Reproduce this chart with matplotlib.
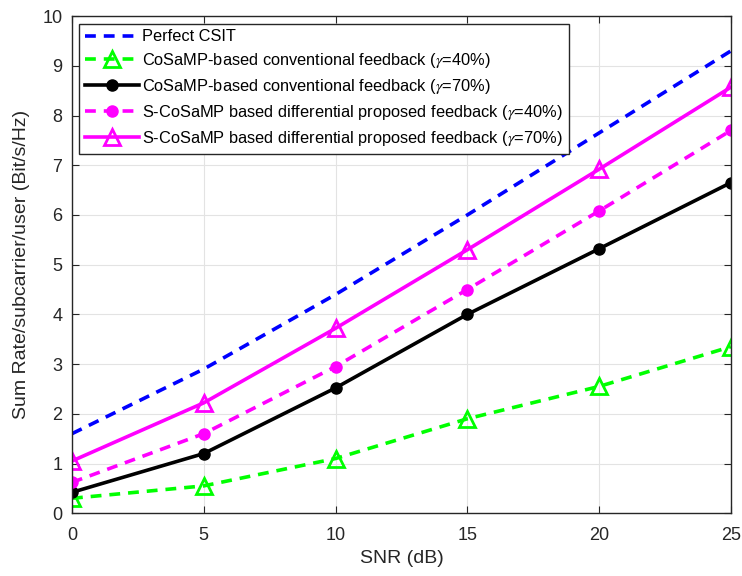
import matplotlib
matplotlib.use("Agg")
import matplotlib.pyplot as plt

plt.rcParams["font.family"] = ["Liberation Sans", "DejaVu Sans"]
plt.rcParams["mathtext.fontset"] = "stix"

snr = [0, 5, 10, 15, 20, 25]
perfect_csit = [1.6, 2.9, 4.4, 6.0, 7.65, 9.3]
cosamp_40 = [0.3, 0.55, 1.1, 1.9, 2.55, 3.35]
cosamp_70 = [0.42, 1.2, 2.52, 4.0, 5.32, 6.65]
scosamp_40 = [0.62, 1.6, 2.95, 4.5, 6.08, 7.7]
scosamp_70 = [1.05, 2.22, 3.72, 5.3, 6.92, 8.57]

labels = [
    "Perfect CSIT",
    r"CoSaMP-based conventional feedback ($\gamma$=40%)",
    r"CoSaMP-based conventional feedback ($\gamma$=70%)",
    r"S-CoSaMP based differential proposed feedback ($\gamma$=40%)",
    r"S-CoSaMP based differential proposed feedback ($\gamma$=70%)",
]

fig = plt.figure(figsize=(7.42, 5.76), dpi=100)
ax = fig.add_axes([0.097, 0.109, 0.888, 0.863])

lw = 2.6
dash = (0, (3, 2.2))
ax.plot(snr, perfect_csit, color="#0000ff", linestyle=dash, linewidth=lw, label=labels[0])
ax.plot(snr, cosamp_40, color="#00ff00", linestyle=dash, linewidth=lw,
        marker="^", markersize=11, markerfacecolor="none", markeredgewidth=2, label=labels[1])
ax.plot(snr, cosamp_70, color="black", linestyle="-", linewidth=lw,
        marker="o", markersize=8, label=labels[2])
ax.plot(snr, scosamp_40, color="#ff00ff", linestyle=dash, linewidth=lw,
        marker="o", markersize=8, label=labels[3])
ax.plot(snr, scosamp_70, color="#ff00ff", linestyle="-", linewidth=lw,
        marker="^", markersize=11, markerfacecolor="none", markeredgewidth=2, label=labels[4])

ax.set_xlim(0, 25)
ax.set_ylim(0, 10)
ax.set_xticks(range(0, 26, 5))
ax.set_yticks(range(0, 11))
ax.tick_params(direction="in", top=True, right=True, labelsize=13, length=5,
               pad=7, colors="#262626")
ax.tick_params(axis="x", pad=10)
ax.grid(True, color="#e3e3e3", linewidth=0.8)
for s in ax.spines.values():
    s.set_color("#262626")
    s.set_linewidth(1.0)

ax.set_xlabel("SNR (dB)", fontsize=14, color="#262626", labelpad=4)
ax.set_ylabel("Sum Rate/subcarrier/user (Bit/s/Hz)", fontsize=14, color="#262626", labelpad=9)

leg = ax.legend(loc="upper left", fontsize=11.8, fancybox=False, framealpha=1,
                edgecolor="#262626", borderpad=0.35, labelspacing=0.42,
                handlelength=3.3, handletextpad=0.2, borderaxespad=0.45)
leg.get_frame().set_linewidth(1.0)

fig.savefig("out.png", dpi=100)
